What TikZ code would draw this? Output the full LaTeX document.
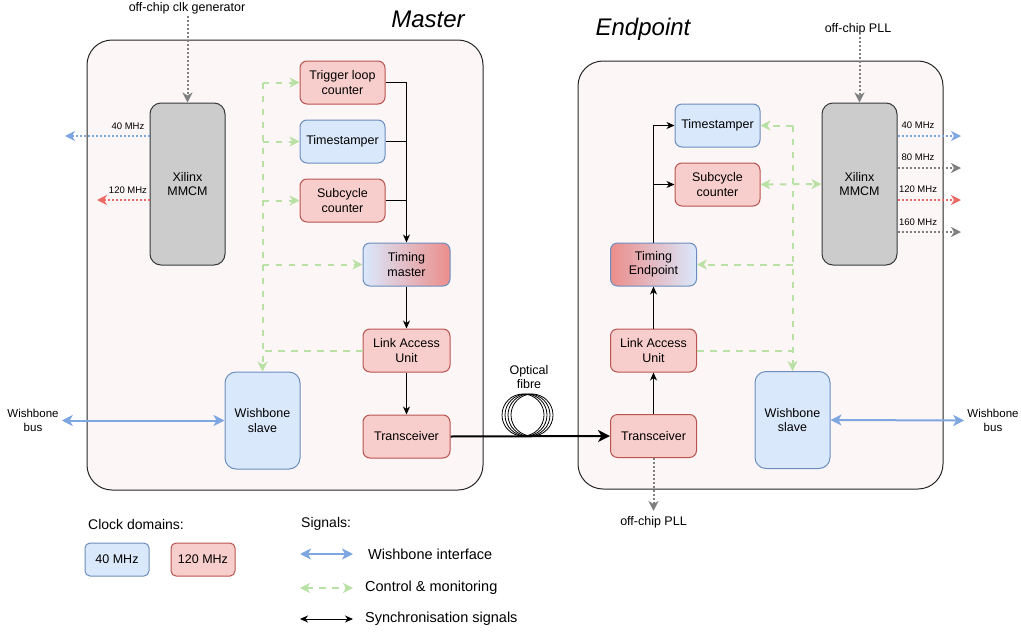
\documentclass[tikz,border=0pt]{standalone}
\usepackage{fontspec}
\setmainfont{Liberation Sans}
\usetikzlibrary{arrows.meta,calc}
\definecolor{bfill}{HTML}{DAE8FC}
\definecolor{bline}{HTML}{6C8EBF}
\definecolor{rfill}{HTML}{F8CECC}
\definecolor{rline}{HTML}{B85450}
\definecolor{gfill}{HTML}{CCCCCC}
\definecolor{gline}{HTML}{36393D}
\definecolor{outfill}{HTML}{FDF6F6}
\definecolor{ctrl}{HTML}{B9E0A5}
\definecolor{wbarrow}{HTML}{7EA6E0}
\definecolor{clkred}{HTML}{EA6B66}
\definecolor{clkgray}{HTML}{808080}
\definecolor{gradred}{HTML}{EC8E8B}
\begin{document}
\begin{tikzpicture}[x=1pt,y=-1pt,
  txt/.style={font=\fontsize{12.5}{14.5}\selectfont, align=center, inner sep=2pt},
  small/.style={font=\fontsize{9.5}{11}\selectfont, inner sep=1pt},
  legtxt/.style={font=\fontsize{14.5}{17}\selectfont, anchor=west, inner sep=0pt},
  blk/.style={rectangle, rounded corners=7pt, minimum width=85pt, minimum height=43pt, align=center, font=\fontsize{12.5}{14.5}\selectfont, inner sep=0pt, line width=1pt},
  bluebox/.style={blk, draw=bline, fill=bfill},
  redbox/.style={blk, draw=rline, fill=rfill},
  mmcmbox/.style={blk, draw=gline, fill=gfill, minimum width=75pt, minimum height=162pt, rounded corners=11pt},
  slavebox/.style={blk, draw=bline, fill=bfill, minimum width=75pt, minimum height=97pt, rounded corners=11pt},
  outer/.style={draw=black!85, fill=outfill, rounded corners=25pt, line width=1pt, inner sep=0pt},
  title/.style={font=\fontsize{24}{28}\selectfont\itshape},
  syncline/.style={draw=black, line width=1pt},
  sync/.style={syncline, -{Stealth[length=8pt,width=7pt,inset=2.5pt]}},
  ctl/.style={draw=ctrl, line width=2pt, dash pattern=on 6.5pt off 6.5pt},
  ctltip/.style={ctl, -{Stealth[length=10pt,width=10pt,inset=3pt]}},
  clk/.style={line width=2pt, dash pattern=on 2pt off 2pt, -{Stealth[length=10pt,width=10pt,inset=3pt]}},
  wb/.style={draw=wbarrow, line width=2pt, {Stealth[length=11pt,width=11pt,inset=3pt]}-{Stealth[length=11pt,width=11pt,inset=3pt]}}
]
\useasboundingbox (0,0) rectangle (1021,635);

% outer boxes
\node[outer, minimum width=396pt, minimum height=450pt] (masterbox) at (285,265) {};
\node[outer, minimum width=365pt, minimum height=428pt] (endbox) at (760.5,275) {};
\node[title] (mtitle) at (428,19) {Master};
\node[title] (etitle) at (643,29) {Endpoint};

% ---------------- Master ----------------
\node[mmcmbox] (mmcm) at (187.5,184) {Xilinx\\MMCM};
\node[redbox] (trig) at (342.5,82.5) {Trigger loop\\counter};
\node[bluebox] (ts) at (342.5,141.5) {Timestamper};
\node[redbox] (sub) at (342.5,200.5) {Subcycle\\counter};
\node[blk, draw=bline, left color=bfill, right color=gradred, minimum width=87pt] (tm) at (406.5,264.5) {Timing\\master};
\node[redbox, minimum width=87pt] (lau) at (406.5,350.5) {Link Access\\Unit};
\node[redbox, minimum width=87pt] (trx) at (406.5,436.5) {Transceiver};
\node[slavebox] (wbs) at (262.5,420.5) {Wishbone\\slave};

\node[txt] (mclk) at (187,8) {off-chip clk generator};
\draw[clk, draw=clkgray] (mmcm.north |- mclk.south) -- (mmcm.north);

\coordinate (m40) at (65,136);
\coordinate (m120) at (97,200);
\draw[clk, draw=wbarrow] (m40 -| mmcm.west) -- (m40);
\draw[clk, draw=clkred] (m120 -| mmcm.west) -- (m120);
\node[small] (l40) at (128,126) {40 MHz};
\node[small] (l120) at (128,190) {120 MHz};

% sync
\draw[sync] (trig.east) -| (tm.north);
\draw[syncline] (ts.east) -- (ts.east -| tm.north);
\draw[syncline] (sub.east) -- (sub.east -| tm.north);
\draw[sync] (tm.south) -- (lau.north);
\draw[sync] (lau.south) -- (trx.north);

% control
\coordinate (gv) at (trig.west -| wbs.north);
\draw[ctltip] (gv) -- (wbs.north);
\draw[ctltip] (gv) -- (trig.west);
\draw[ctltip] (ts.west -| wbs.north) -- (ts.west);
\draw[ctltip] (sub.west -| wbs.north) -- (sub.west);
\draw[ctltip] (tm.west -| wbs.north) -- (tm.west);
\draw[ctl] (lau.west) -- (lau.west -| wbs.north);

% wishbone
\node[font=\fontsize{11.5}{14}\selectfont, align=center, inner sep=3pt] (mwb) at (33,420.5) {Wishbone\\bus};
\draw[wb] (mwb.east) -- (wbs.west);

% ---------------- Endpoint ----------------
\node[mmcmbox] (emmcm) at (859.5,184) {Xilinx\\MMCM};
\node[bluebox] (ets) at (717.5,125.5) {Timestamper};
\node[redbox] (esub) at (717.5,184.5) {Subcycle\\counter};
\node[blk, draw=bline, left color=gradred, right color=bfill, minimum width=86pt] (ete) at (653.5,264.5) {Timing\\Endpoint};
\node[redbox, minimum width=86pt] (elau) at (653.5,350.5) {Link Access\\Unit};
\node[redbox, minimum width=86pt] (etrx) at (653.5,436) {Transceiver};
\node[slavebox] (ewbs) at (792.5,420) {Wishbone\\slave};

\node[txt] (epll) at (858,29) {off-chip PLL};
\draw[clk, draw=clkgray] (emmcm.north |- epll.south) -- (emmcm.north);
\node[txt] (epll2) at (653.5,522) {off-chip PLL};
\draw[clk, draw=clkgray, shorten >=3pt] (etrx.south) -- (etrx.south |- epll2.north);

\coordinate (e40) at (961,136);
\coordinate (e80) at (961,168);
\coordinate (e120) at (961,200);
\coordinate (e160) at (961,232);
\draw[clk, draw=wbarrow] (e40 -| emmcm.east) -- (e40);
\draw[clk, draw=clkgray] (e80 -| emmcm.east) -- (e80);
\draw[clk, draw=clkred] (e120 -| emmcm.east) -- (e120);
\draw[clk, draw=clkgray] (e160 -| emmcm.east) -- (e160);
\node[small] (el40) at (918,125) {40 MHz};
\node[small] (el80) at (918,157) {80 MHz};
\node[small] (el120) at (918,189) {120 MHz};
\node[small] (el160) at (918,222) {160 MHz};

% sync
\draw[sync] (ete.north) |- (ets.west);
\draw[sync] (esub.west -| ete.north) -- (esub.west);
\draw[sync] (elau.north) -- (ete.south);
\draw[sync] (etrx.north) -- (elau.south);

% control
\coordinate (egv) at (ets.east -| ewbs.north);
\draw[ctltip] (egv) -- (ewbs.north);
\draw[ctltip] (egv) -- (ets.east);
\draw[ctl, {Stealth[length=10pt,width=10pt,inset=3pt]}-{Stealth[length=10pt,width=10pt,inset=3pt]}] (esub.east) -- (emmcm.west);
\draw[ctltip] (ete.east -| ewbs.north) -- (ete.east);
\draw[ctl] (elau.east) -- (elau.east -| ewbs.north);

% wishbone
\node[font=\fontsize{11.5}{14}\selectfont, align=center, inner sep=3pt] (ewb) at (993,420.5) {Wishbone\\bus};
\draw[wb] (ewbs.east) -- (ewb.west);

% ---------------- fibre ----------------
\foreach \i/\xx in {1/523,2/526,3/529,4/532} {
  \node[circle, draw=black, line width=0.8pt, minimum size=42pt, inner sep=0pt] (fib\i) at (\xx,415) {};
}
\node[txt] (fibtxt) at (529,377) {Optical\\fibre};
\draw[line width=2pt, -{Stealth[length=12pt,width=12pt,inset=3.5pt]}] (trx.east) -- (etrx.west);

% ---------------- legend ----------------
\node[font=\fontsize{14}{17}\selectfont, anchor=west, inner sep=0pt] (cdom) at (88,524) {Clock domains:};
\node[font=\fontsize{14}{17}\selectfont, anchor=west, inner sep=0pt] (sigs) at (301,524) {Signals:};
\node[bluebox, minimum width=64pt, minimum height=33pt, rounded corners=5pt] (leg40) at (117,559.5) {40 MHz};
\node[redbox, minimum width=64pt, minimum height=33pt, rounded corners=5pt] (leg120) at (203,559.5) {120 MHz};

\coordinate (la1) at (300,554); \coordinate (lb1) at (353,554);
\coordinate (la2) at (300,588); \coordinate (lb2) at (353,588);
\coordinate (la3) at (300,619); \coordinate (lb3) at (353,619);
\draw[wb] (la1) -- (lb1);
\draw[ctl, {Stealth[length=10pt,width=10pt,inset=3pt]}-{Stealth[length=10pt,width=10pt,inset=3pt]}] (la2) -- (lb2);
\draw[syncline, {Stealth[length=8pt,width=7pt,inset=2.5pt]}-{Stealth[length=8pt,width=7pt,inset=2.5pt]}] (la3) -- (lb3);
\node[legtxt] (lt1) at (368,554) {Wishbone interface};
\node[legtxt] (lt2) at (365,588) {Control \& monitoring};
\node[legtxt] (lt3) at (365,619) {Synchronisation signals};
\end{tikzpicture}
\end{document}
